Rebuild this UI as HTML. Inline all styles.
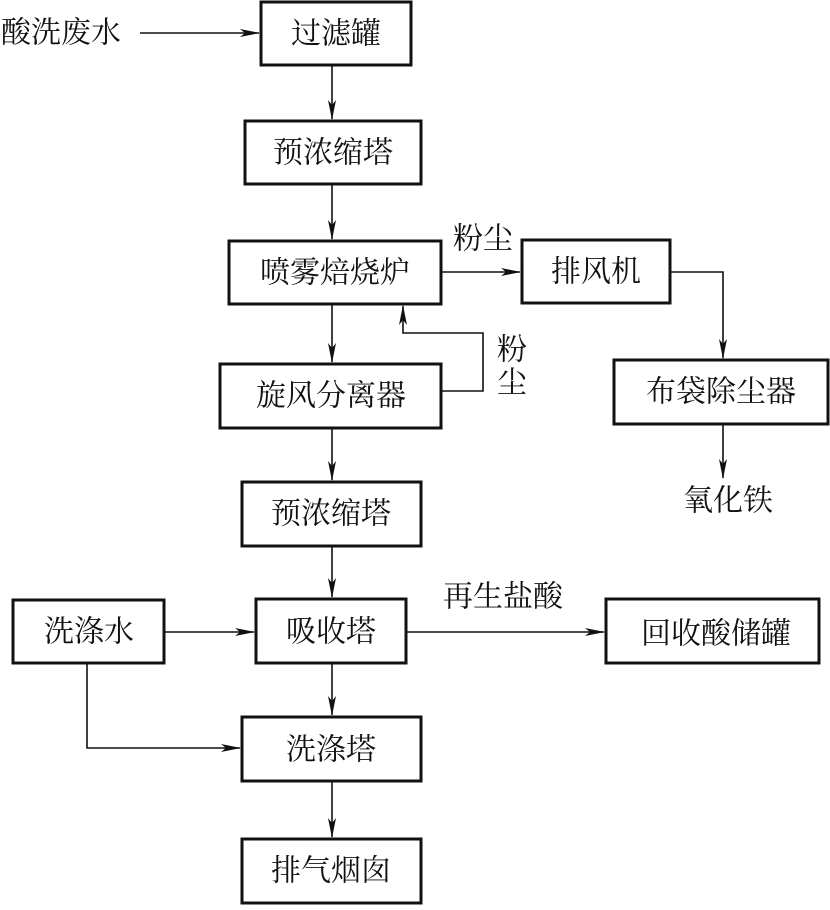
<!DOCTYPE html>
<html><head><meta charset="utf-8"><style>
html,body{margin:0;padding:0;background:#fff;}
svg text{font-family:"Liberation Serif","Noto Serif CJK SC",serif;font-size:30px;fill:#111;}
</style></head><body>
<svg width="830" height="905" viewBox="0 0 830 905" xmlns="http://www.w3.org/2000/svg">
<defs>
<marker id="a" markerWidth="20" markerHeight="8" refX="19" refY="4" orient="auto" markerUnits="userSpaceOnUse">
<path d="M0,0 L20,4 L0,8 L5,4 Z" fill="#111"/>
</marker>
</defs>
<g fill="none" stroke="#111" stroke-width="3">
<rect x="261" y="2" width="150" height="63"/>
<rect x="245" y="121" width="176" height="63"/>
<rect x="229" y="241" width="212" height="63"/>
<rect x="522" y="240" width="148" height="63"/>
<rect x="220" y="364" width="221" height="64"/>
<rect x="614" y="360" width="214" height="64"/>
<rect x="242" y="482" width="179" height="64"/>
<rect x="13" y="600" width="151" height="63"/>
<rect x="256" y="599" width="150" height="64"/>
<rect x="606" y="599" width="213" height="64"/>
<rect x="242" y="717" width="179" height="64"/>
<rect x="242" y="839" width="179" height="64"/>
</g>
<g fill="none" stroke="#111" stroke-width="1.6" marker-end="url(#a)">
<line x1="140" y1="33" x2="259" y2="33"/>
<line x1="332" y1="66" x2="332" y2="119"/>
<line x1="332" y1="185" x2="332" y2="239"/>
<line x1="442" y1="272" x2="520" y2="272"/>
<polyline points="671,272 723,272 723,358"/>
<line x1="723" y1="425" x2="723" y2="478"/>
<polyline points="442,391 483,391 483,333 403,333 403,306"/>
<line x1="332" y1="305" x2="332" y2="362"/>
<line x1="332" y1="429" x2="332" y2="480"/>
<line x1="332" y1="547" x2="332" y2="597"/>
<line x1="165" y1="632" x2="254" y2="632"/>
<line x1="407" y1="632" x2="604" y2="632"/>
<line x1="332" y1="664" x2="332" y2="715"/>
<polyline points="87,664 87,748 240,748"/>
<line x1="332" y1="782" x2="332" y2="837"/>
</g>
<g text-anchor="middle" dominant-baseline="central">
<text x="61" y="33">酸洗废水</text>
<text x="336" y="34">过滤罐</text>
<text x="333" y="153">预浓缩塔</text>
<text x="335" y="273">喷雾焙烧炉</text>
<text x="596" y="272">排风机</text>
<text x="483" y="239">粉尘</text>
<text x="512" y="350">粉</text>
<text x="512" y="383">尘</text>
<text x="331" y="396">旋风分离器</text>
<text x="721" y="392">布袋除尘器</text>
<text x="728" y="501">氧化铁</text>
<text x="331" y="514">预浓缩塔</text>
<text x="503" y="597">再生盐酸</text>
<text x="89" y="632">洗涤水</text>
<text x="331" y="632">吸收塔</text>
<text x="716" y="634">回收酸储罐</text>
<text x="331" y="750">洗涤塔</text>
<text x="331" y="871">排气烟囱</text>
</g>
</svg>
</body></html>
